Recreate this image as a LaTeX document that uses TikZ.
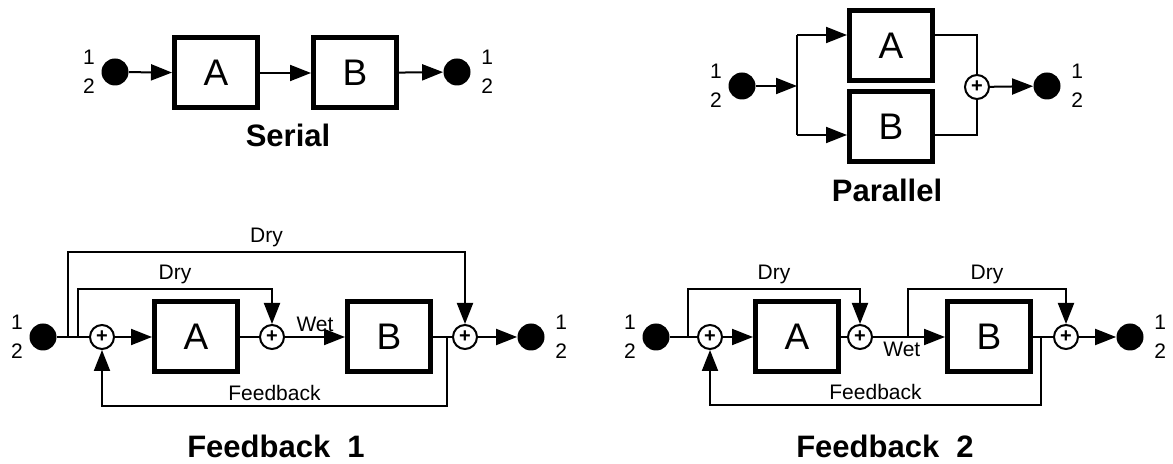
\documentclass[tikz,border=0pt]{standalone}
\usepackage{fontspec}
\setmainfont{Liberation Sans}
\usetikzlibrary{arrows.meta, positioning}

\begin{document}
\begin{tikzpicture}[
    x=0.5pt, y=-0.5pt,
    box/.style={rectangle, draw=black, line width=2.5pt, minimum width=41.5pt, minimum height=35pt,
                inner sep=0pt, font=\fontsize{18.5}{20}\selectfont},
    sum/.style={circle, draw=black, line width=1pt, minimum size=12pt, inner sep=0pt,
                font=\fontsize{10}{10}\selectfont\bfseries},
    dot/.style={circle, fill=black, minimum size=13.5pt, inner sep=0pt},
    port/.style={align=center, inner sep=0pt, font=\fontsize{10.5}{14.5}\selectfont},
    lbl/.style={font=\fontsize{10.5}{12}\selectfont, inner sep=2pt},
    title/.style={font=\fontsize{15.5}{18}\selectfont\bfseries},
    wire/.style={line width=1pt},
    arr/.style={wire, -{Triangle[length=10.5pt, width=8pt]}},
]
\useasboundingbox (0,0) rectangle (1173,464);

% Serial
\node[dot] (s-in) at (115,72) {};
\node[box] (s-a) at (216,73) {A};
\node[box] (s-b) at (355,73) {B};
\node[dot] (s-out) at (457,72) {};
\node[port, left=3pt of s-in] (s-inp) {1\\2};
\node[port, right=5pt of s-out] (s-outp) {1\\2};
\node[title] (s-title) at (288,135) {Serial};

\draw[arr] (s-in) -- (s-a);
\draw[arr] (s-a) -- (s-b);
\draw[arr] (s-b) -- (s-out);

% Parallel
\node[dot] (p-in) at (742,86) {};
\node[box] (p-a) at (891,46) {A};
\node[box] (p-b) at (891,127) {B};
\node[sum] (p-sum) at (977,87) {+};
\node[dot] (p-out) at (1047,86) {};
\node[port, left=3pt of p-in] (p-inp) {1\\2};
\node[port, right=5pt of p-out] (p-outp) {1\\2};
\node[title] (p-title) at (887,190) {Parallel};
\coordinate (p-split) at (797,86);
\coordinate (p-top) at (797,35);
\coordinate (p-bot) at (797,135);

\draw[arr] (p-in) -- (p-split);
\draw[wire] (p-top) -- (p-bot);
\draw[arr] (p-top) -- (p-a.west |- p-top);
\draw[arr] (p-bot) -- (p-b.west |- p-bot);
\draw[wire] (p-a.east |- p-top) -| (p-sum);
\draw[wire] (p-b.east |- p-bot) -| (p-sum);
\draw[arr] (p-sum) -- (p-out);

% Feedback 1
\node[dot] (f1-in) at (43,337) {};
\node[sum] (f1-s1) at (102,337) {+};
\node[box] (f1-a) at (196,337) {A};
\node[sum] (f1-s2) at (272,337) {+};
\node[box] (f1-b) at (389,337) {B};
\node[sum] (f1-s3) at (465,337) {+};
\node[dot] (f1-out) at (531,337) {};
\node[port, left=3pt of f1-in] (f1-inp) {1\\2};
\node[port, right=5pt of f1-out] (f1-outp) {1\\2};
\node[title] (f1-title) at (276,446) {Feedback~~1};
\coordinate (f1-t1) at (68,337);
\coordinate (f1-t2) at (78,337);
\coordinate (f1-fb) at (447,337);

\draw[wire] (f1-in) -- (f1-s1);
\draw[arr] (f1-s1) -- (f1-a);
\draw[wire] (f1-a) -- (f1-s2);
\draw[arr] (f1-s2) -- node[lbl, above] {Wet} (f1-b);
\draw[wire] (f1-b) -- (f1-s3);
\draw[arr] (f1-s3) -- (f1-out);
\draw[arr] (f1-t1) -- ++(0,-85) -| (f1-s3) node[lbl, pos=0.25, above] {Dry};
\draw[arr] (f1-t2) -- ++(0,-48) -| (f1-s2) node[lbl, pos=0.25, above] {Dry};
\draw[arr] (f1-fb) -- ++(0,69) -| (f1-s1) node[lbl, pos=0.25, above] {Feedback};

% Feedback 2
\node[dot] (f2-in) at (656,337) {};
\node[sum] (f2-s1) at (710,337) {+};
\node[box] (f2-a) at (797,337) {A};
\node[sum] (f2-s2) at (860,337) {+};
\node[box] (f2-b) at (989,337) {B};
\node[sum] (f2-s3) at (1066,337) {+};
\node[dot] (f2-out) at (1130,337) {};
\node[port, left=3pt of f2-in] (f2-inp) {1\\2};
\node[port, right=5pt of f2-out] (f2-outp) {1\\2};
\node[title] (f2-title) at (885,446) {Feedback~~2};
\coordinate (f2-t1) at (688,337);
\coordinate (f2-t2) at (908,337);
\coordinate (f2-fb) at (1041,337);

\draw[wire] (f2-in) -- (f2-s1);
\draw[arr] (f2-s1) -- (f2-a);
\draw[wire] (f2-a) -- (f2-s2);
\draw[arr] (f2-s2) -- node[lbl, below, pos=0.4] {Wet} (f2-b);
\draw[wire] (f2-b) -- (f2-s3);
\draw[arr] (f2-s3) -- (f2-out);
\draw[arr] (f2-t1) -- ++(0,-48) -| (f2-s2) node[lbl, pos=0.25, above] {Dry};
\draw[arr] (f2-t2) -- ++(0,-48) -| (f2-s3) node[lbl, pos=0.25, above] {Dry};
\draw[arr] (f2-fb) -- ++(0,68) -| (f2-s1) node[lbl, pos=0.25, above] {Feedback};

\end{tikzpicture}
\end{document}
